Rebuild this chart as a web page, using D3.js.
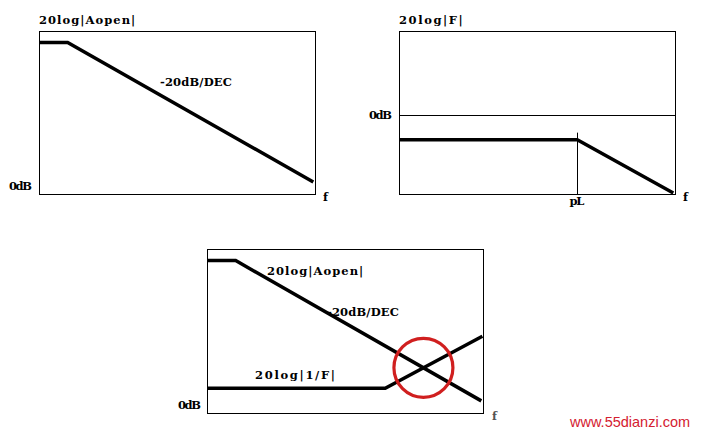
<!DOCTYPE html>
<html><head><meta charset="utf-8">
<script src="https://cdn.jsdelivr.net/npm/d3@7"></script>
<style>html,body{margin:0;padding:0;background:#fff}svg{display:block}
text{font-family:"DejaVu Serif",serif;font-weight:bold;font-size:11.5px;fill:#000}</style>
</head><body>
<script>
// x values: log10 frequency (decades); y values: dB
const aopenX = [0, 0.51, 4.96];
const aopenY = [97, 97, 8];
const fbX = [0, 3.22, 4.96];
const fbY = [-16, -16, -50];
const invFX = [0, 3.22, 4.98];
const invFY = [16, 16, 49];
const titles = ["20log|Aopen|", "20log|F|"];
const slopeLabel = "-20dB/DEC";
const zeroLabel = "0dB";
const poleLabel = "pL";
const freqLabel = "f";

const W = 704, H = 433;
const svg = d3.select("body").append("svg").attr("width", W).attr("height", H);

const pts = (xs, ys) => xs.map((x, i) => [x, ys[i]]);

function panel(x0, x1, y0, y1, yDom) {
  const xs = d3.scaleLinear().domain([0, 5]).range([x0, x1]);
  const ys = d3.scaleLinear().domain(yDom).range([y1, y0]);
  const g = svg.append("g");
  g.append("rect").attr("x", x0).attr("y", y0).attr("width", x1 - x0).attr("height", y1 - y0)
    .attr("fill", "none").attr("stroke", "#000").attr("stroke-width", 1);
  return {xs, ys, g};
}
function curve(p, data) {
  const line = d3.line().x(d => p.xs(d[0])).y(d => p.ys(d[1]));
  p.g.append("path").attr("d", line(data)).attr("fill", "none")
    .attr("stroke", "#000").attr("stroke-width", 3.5).attr("stroke-linejoin", "miter");
}
function label(t, x, y, anchor) {
  const el = svg.append("text").attr("x", x).attr("y", y).attr("text-anchor", anchor || "start").text(t);
  if (t.length > 1) el.attr("textLength", t.length * 8.15 - 1.5).attr("lengthAdjust", "spacing");
}

// Panel 1
const p1 = panel(39.5, 315.5, 31.5, 194.5, [0, 104]);
curve(p1, pts(aopenX, aopenY));
label(titles[0], 39, 24);
label(slopeLabel, 160, 86);
label(zeroLabel, 9, 190);
label(freqLabel, 323, 201);

// Panel 2
const p2 = panel(399.5, 675.5, 31.5, 194.5, [-51, 53]);
p2.g.append("line").attr("x1", 399.5).attr("x2", 675.5)
  .attr("y1", Math.round(p2.ys(0)) + 0.5).attr("y2", Math.round(p2.ys(0)) + 0.5)
  .attr("stroke", "#000").attr("stroke-width", 1);
const pLx = Math.round(p2.xs(fbX[1])) + 0.5;
p2.g.append("line").attr("x1", pLx).attr("x2", pLx).attr("y1", p2.ys(fbY[1]) - 7).attr("y2", 194.5)
  .attr("stroke", "#000").attr("stroke-width", 1);
curve(p2, pts(fbX, fbY));
label(titles[1], 399, 24);
label(zeroLabel, 369, 119);
label(poleLabel, pLx - 8, 205);
label(freqLabel, 683, 201);

// Panel 3
const p3 = panel(207.5, 483.5, 249.5, 413.5, [0, 104]);
curve(p3, pts(aopenX, aopenY));
curve(p3, pts(invFX, invFY));
// intersection of the two sloped segments
const a1 = [aopenX[1], aopenY[1]], a2 = [aopenX[2], aopenY[2]];
const b1 = [invFX[1], invFY[1]], b2 = [invFX[2], invFY[2]];
const ma = (a2[1] - a1[1]) / (a2[0] - a1[0]), mb = (b2[1] - b1[1]) / (b2[0] - b1[0]);
const ix = (b1[1] - a1[1] + ma * a1[0] - mb * b1[0]) / (ma - mb);
const iy = a1[1] + ma * (ix - a1[0]);
svg.append("circle").attr("cx", p3.xs(ix)).attr("cy", p3.ys(iy)).attr("r", 29.5)
  .attr("fill", "none").attr("stroke", "#d01f1f").attr("stroke-width", 3.2);
label(titles[0], 267, 275);
label(slopeLabel, 327, 316);
label("20log|1/F|", 255, 379);
label(zeroLabel, 178, 409);
svg.append("text").attr("x", 492).attr("y", 420).style("fill", "#555").text(freqLabel);

// watermark
svg.append("text").attr("x", 570).attr("y", 427)
  .style("font-family", "Liberation Sans, Arial, sans-serif").style("font-weight", "normal")
  .style("font-size", "14.5px").style("fill", "#d42030")
  .text("www.55dianzi.com");
</script>
</body></html>
